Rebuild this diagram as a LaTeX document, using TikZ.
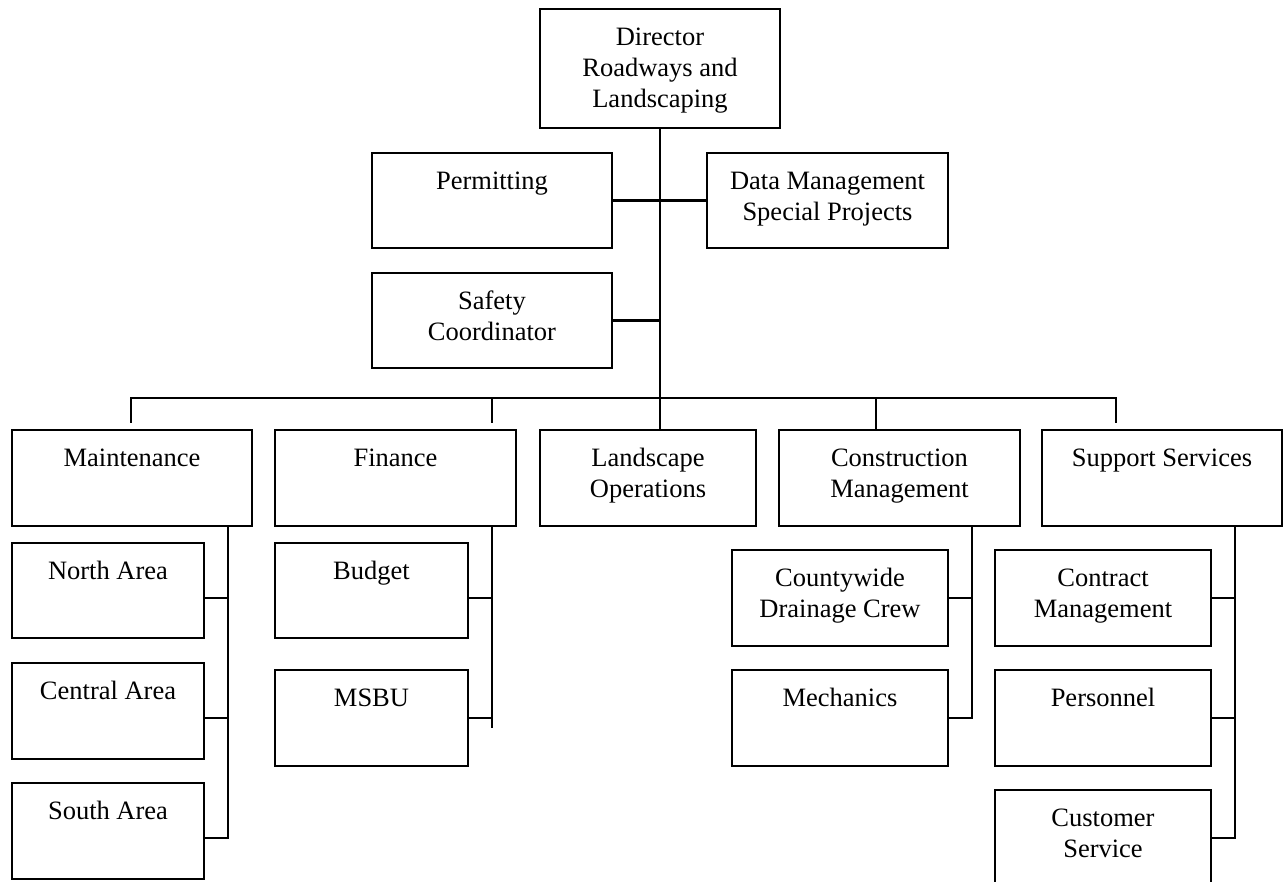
\documentclass[tikz,border=0pt]{standalone}
\usepackage{fontspec}
\setmainfont{Liberation Serif}
\newcommand{\fs}{\rule{0pt}{19pt}}
\begin{document}
\begin{tikzpicture}[x=1pt,y=-1pt,
 box/.style={draw, line width=2.3pt, outer sep=0pt, inner sep=0pt, minimum height=95pt},
 txt/.style={anchor=north, inner sep=0pt, yshift=-17pt, align=center, font=\fontsize{26.5}{31}\selectfont},
 conn/.style={line width=2.1pt}
]
\useasboundingbox (0,0) rectangle (1283,882);
% top
\node[box, minimum width=240pt, minimum height=119pt, label={[txt]north:{\fs Director\\Roadways and\\Landscaping}}] (dir) at (660,68.5) {};
\node[box, minimum width=240pt, label={[txt]north:{\fs Permitting}}] (perm) at (492,200.5) {};
\node[box, minimum width=241pt, label={[txt]north:{\fs Data Management\\Special Projects}}] (dm) at (827.5,200.5) {};
\node[box, minimum width=240pt, label={[txt]north:{\fs Safety\\Coordinator}}] (safe) at (492,320.5) {};
% second level
\node[box, minimum width=240pt, minimum height=96pt, label={[txt]north:{\fs Maintenance}}] (main) at (132,478) {};
\node[box, minimum width=241pt, minimum height=96pt, label={[txt]north:{\fs Finance}}] (fin) at (395.5,478) {};
\node[box, minimum width=216pt, minimum height=96pt, label={[txt]north:{\fs Landscape\\Operations}}] (land) at (648,478) {};
\node[box, minimum width=241pt, minimum height=96pt, label={[txt]north:{\fs Construction\\Management}}] (cons) at (899.5,478) {};
\node[box, minimum width=240pt, minimum height=96pt, label={[txt]north:{\fs Support Services}}] (supp) at (1162,478) {};
% third level
\node[box, minimum width=192pt, label={[txt]north:{\fs North Area}}] (north) at (108,590.5) {};
\node[box, minimum width=192pt, minimum height=96pt, label={[txt]north:{\fs Central Area}}] (central) at (108,711) {};
\node[box, minimum width=192pt, minimum height=96pt, label={[txt]north:{\fs South Area}}] (south) at (108,831) {};
\node[box, minimum width=193pt, label={[txt]north:{\fs Budget}}] (budget) at (371.5,590.5) {};
\node[box, minimum width=193pt, minimum height=96pt, label={[txt]north:{\fs MSBU}}] (msbu) at (371.5,718) {};
\node[box, minimum width=216pt, minimum height=96pt, label={[txt]north:{\fs Countywide\\Drainage Crew}}] (county) at (840,598) {};
\node[box, minimum width=216pt, minimum height=96pt, label={[txt]north:{\fs Mechanics}}] (mech) at (840,718) {};
\node[box, minimum width=216pt, minimum height=96pt, label={[txt]north:{\fs Contract\\Management}}] (contract) at (1103,598) {};
\node[box, minimum width=216pt, minimum height=96pt, label={[txt]north:{\fs Personnel}}] (pers) at (1103,718) {};
\node[box, minimum width=216pt, minimum height=96pt, label={[txt]north:{\fs Customer\\Service}}] (cust) at (1103,838) {};
% coordinates
\coordinate (trunkB) at (660,398);
\coordinate (busL) at (131,398);
\coordinate (busR) at (1116,398);
\coordinate (mEnd) at (131,423);
\coordinate (fTop) at (491.7,398);
\coordinate (fEnd) at (491.7,423);
\coordinate (sEnd) at (1116,423);
\coordinate (cTop) at (875.7,398);
\coordinate (m1) at (228,598);
\coordinate (m2) at (228,718);
\coordinate (mv) at (228,838);
\coordinate (f1) at (491.7,598);
\coordinate (f2) at (491.7,718);
\coordinate (fv) at (491.7,728);
\coordinate (c1) at (971.6,598);
\coordinate (cv) at (971.6,718);
\coordinate (s1) at (1235,598);
\coordinate (s2) at (1235,718);
\coordinate (sv) at (1235,838);
% connectors
\draw[conn] (dir.south) -- (trunkB) -- (trunkB |- land.north);
\draw[conn] (perm.east) -- (dm.west);
\draw[conn] (safe.east) -- (safe.east -| trunkB);
\draw[conn] (mEnd) -- (busL) -- (busR) -- (sEnd);
\draw[conn] (fTop) -- (fEnd);
\draw[conn] (cTop) -- (cTop |- cons.north);
\draw[conn] (mv |- main.south) -- (mv) -- (south.east |- mv);
\draw[conn] (north.east |- m1) -- (m1);
\draw[conn] (central.east |- m2) -- (m2);
\draw[conn] (fv |- fin.south) -- (fv);
\draw[conn] (budget.east |- f1) -- (f1);
\draw[conn] (msbu.east |- f2) -- (f2);
\draw[conn] (cv |- cons.south) -- (cv) -- (mech.east |- cv);
\draw[conn] (county.east |- c1) -- (c1);
\draw[conn] (sv |- supp.south) -- (sv) -- (cust.east |- sv);
\draw[conn] (contract.east |- s1) -- (s1);
\draw[conn] (pers.east |- s2) -- (s2);
\end{tikzpicture}
\end{document}
